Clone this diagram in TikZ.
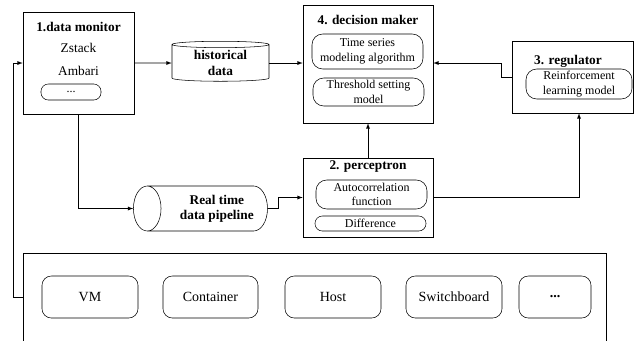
\documentclass[tikz,border=0pt]{standalone}
\usepackage{fontspec}
\setmainfont{Liberation Serif}
\usetikzlibrary{shapes.geometric}
\newcommand\pxl{0.75pt}
\tikzset{
  box/.style={draw, rectangle, inner sep=0pt},
  title/.style={font=\fontsize{10}{11}\selectfont\bfseries},
  plain/.style={font=\fontsize{10}{11}\selectfont},
  sub/.style={draw, rounded corners=8pt, align=center, inner sep=0pt, font=\fontsize{9}{11}\selectfont},
  unitbox/.style={draw, rounded corners=7pt, inner sep=0pt, minimum height=42*\pxl, font=\fontsize{10.5}{12}\selectfont},
  store/.style={draw, cylinder, align=center, inner sep=0pt, font=\fontsize{10}{12}\selectfont\bfseries},
  >=latex
}
\begin{document}
\begin{tikzpicture}[x=0.75pt,y=-0.75pt]
\useasboundingbox (0,0) rectangle (635,340);
% 1. data monitor
\node[box, minimum width=111*\pxl, minimum height=102*\pxl] (monitor) at (78.5,63) {};
\node[title] (montitle) at (78.5,27) {1.data monitor};
\node[plain] (zstack) at (78.5,48) {Zstack};
\node[plain] (ambari) at (78.5,71) {Ambari};
\node[sub, rounded corners=5.5pt, minimum width=60*\pxl, minimum height=16*\pxl] (mondots) at (71,92) {...};
% historical data
\node[store, shape border rotate=90, aspect=0.12, minimum width=97*\pxl, minimum height=40*\pxl] (hist) at (220.5,63) {historical\\data};
% 4. decision maker
\node[box, minimum width=130*\pxl, minimum height=118*\pxl] (decision) at (368,64) {};
\node[title] (dectitle) at (368,20) {4. decision maker};
\node[sub, minimum width=111*\pxl, minimum height=35*\pxl] (timeseries) at (367.5,51.5) {Time series\\modeling algorithm};
\node[sub, minimum width=111*\pxl, minimum height=28*\pxl] (threshold) at (368.5,92) {Threshold setting\\model};
% 3. regulator
\node[box, minimum width=121*\pxl, minimum height=72*\pxl] (regulator) at (572.5,77) {};
\node[title] (regtitle) at (568,61) {3. regulator};
\node[sub, minimum width=106*\pxl, minimum height=30*\pxl] (reinforce) at (579,84) {Reinforcement\\learning model};
% 2. perceptron
\node[box, minimum width=130*\pxl, minimum height=79*\pxl] (percep) at (368,197.5) {};
\node[title] (pertitle) at (368,166) {2. perceptron};
\node[sub, minimum width=111*\pxl, minimum height=29*\pxl] (autocorr) at (371.5,194.5) {Autocorrelation\\function};
\node[sub, rounded corners=5.5pt, minimum width=111*\pxl, minimum height=15*\pxl] (diff) at (370.5,223.5) {Difference};
% real time data pipeline
\node[store, shape border rotate=180, aspect=0.9, minimum width=45*\pxl, minimum height=131*\pxl] (pipe) at (207.5,208.5)
  {\begin{tabular}{@{\hspace{14pt}}c@{}}Real time\\[-1pt] data pipeline\end{tabular}};
% monitored resources
\draw (23,345) |- (606,253) -- (606,345);
\coordinate (infra) at (23,297);
\foreach \name/\x/\w/\txt in {vm/90/96/VM, container/210.5/95/Container, host/333/96/Host, switch/454/96/Switchboard, more/555/72/\textbf{...}}
  \node[unitbox, minimum width=\w*\pxl] (\name) at (\x,297) {\txt};
% connectors
\draw[->] (monitor.east) -- (hist.west);
\draw[->] (hist.east) -- (decision.west |- hist.east);
\draw[->] (regulator.west) -- ++(-10,0) |- (decision.east |- hist.east);
\draw[->] (percep.north) -- (decision.south);
\draw[->] (percep.east) -| (regulator.south -| reinforce.center);
\draw[->] (monitor.south) |- (pipe.west);
\draw[->] (pipe.east) -- ++(11,0) |- (percep.west);
\draw[->] (infra) -- ++(-10,0) |- (monitor.west);
\end{tikzpicture}
\end{document}
